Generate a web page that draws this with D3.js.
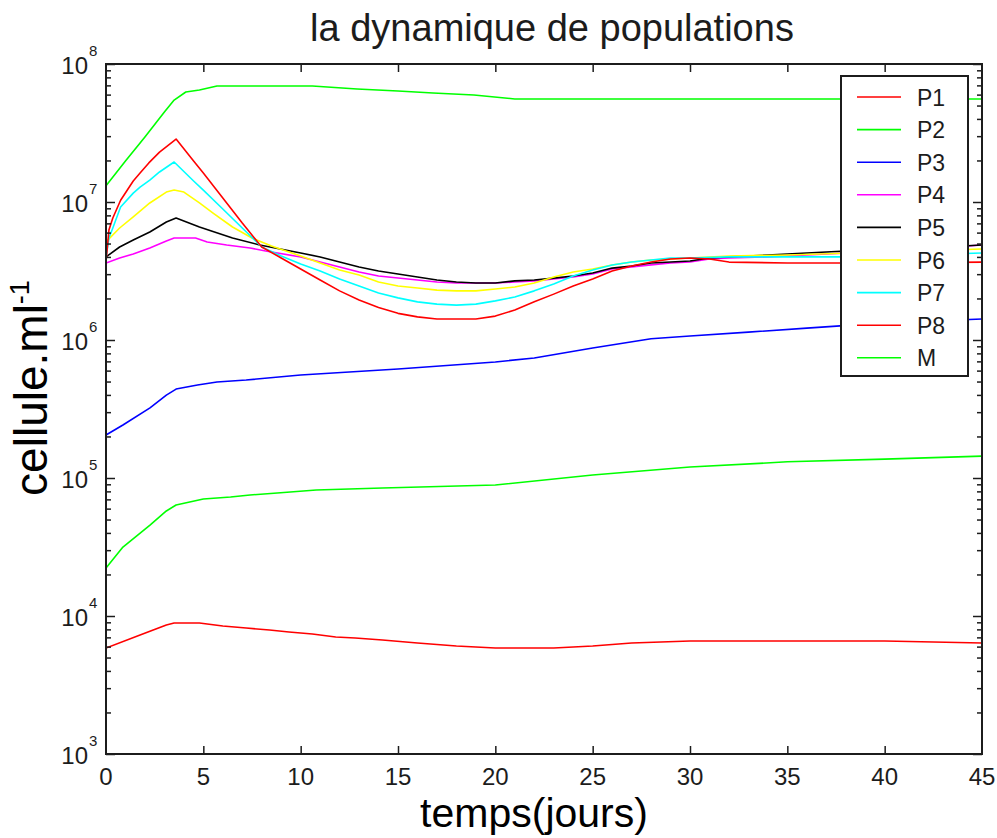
<!DOCTYPE html>
<html>
<head>
<meta charset="utf-8">
<script src="https://cdn.jsdelivr.net/npm/d3@7"></script>
<style>
  body { margin: 0; background: #fff; }
  svg { display: block; font-family: "Liberation Sans", Arial, sans-serif; }
</style>
</head>
<body>
<svg id="chart" width="997" height="838"></svg>
<script>
// ---- labels and ticks ----
const titleText = "la dynamique de populations";
const xLabelText = "temps(jours)";
const yLabelText = "cellule.ml";
const yLabelSup = "-1";
const xTicks = [0, 5, 10, 15, 20, 25, 30, 35, 40, 45];
const yDecades = [3, 4, 5, 6, 7, 8];

// ---- series (time in days, cells per ml) ----
const seriesNames  = ["P1", "P2", "P3", "P4", "P5", "P6", "P7", "P8", "M"];
const seriesColors = ["#ff0000", "#00ff00", "#0000ff", "#ff00ff", "#000000", "#ffff00", "#00ffff", "#ff0000", "#00ff00"];

const tP1 = [0, 1.75, 3.1, 3.5, 4.8, 6, 7.2, 8.4, 9.4, 10.6, 11.8, 12.8, 14.2, 16, 18, 20, 23, 25, 27, 30, 35, 40, 45];
const vP1 = [5.86e3, 7.28e3, 8.60e3, 8.90e3, 8.90e3, 8.46e3, 8.18e3, 7.92e3, 7.66e3, 7.41e3, 7.04e3, 6.93e3, 6.70e3, 6.37e3, 6.06e3, 5.86e3, 5.86e3, 6.06e3, 6.37e3, 6.59e3, 6.59e3, 6.59e3, 6.37e3];

const tP2 = [0, 0.87, 2.26, 3.1, 3.6, 4.3, 5, 6.4, 7.4, 8.8, 10.8, 14.2, 20, 25, 30, 35, 40, 45];
const vP2 = [2.23e4, 3.16e4, 4.56e4, 5.77e4, 6.37e4, 6.70e4, 7.04e4, 7.28e4, 7.53e4, 7.79e4, 8.18e4, 8.46e4, 8.90e4, 1.05e5, 1.20e5, 1.31e5, 1.37e5, 1.44e5];

const tP3 = [0, 0.87, 2.26, 3.1, 3.6, 4.7, 5.7, 7.2, 10, 15, 20, 22, 25, 28, 30, 33, 36, 40, 45];
const vP3 = [2.05e5, 2.42e5, 3.22e5, 3.99e5, 4.41e5, 4.72e5, 4.96e5, 5.13e5, 5.58e5, 6.16e5, 6.93e5, 7.41e5, 8.75e5, 1.02e6, 1.07e6, 1.14e6, 1.22e6, 1.33e6, 1.42e6];

const tP4 = [0, 0.7, 1.4, 2.25, 3.1, 3.5, 4.6, 5.2, 6.2, 7.4, 8.2, 10, 11, 12, 13, 14, 15, 16, 17, 18, 19, 20, 21, 22, 23, 24, 25, 26, 27, 28, 29, 30, 31, 32, 34, 36, 38, 42, 45];
const vP4 = [3.61e6, 3.93e6, 4.20e6, 4.64e6, 5.22e6, 5.48e6, 5.48e6, 5.13e6, 4.88e6, 4.64e6, 4.41e6, 4.00e6, 3.67e6, 3.38e6, 3.11e6, 2.91e6, 2.81e6, 2.72e6, 2.63e6, 2.59e6, 2.59e6, 2.59e6, 2.63e6, 2.68e6, 2.77e6, 2.86e6, 3.01e6, 3.27e6, 3.38e6, 3.50e6, 3.61e6, 3.67e6, 3.86e6, 3.93e6, 4.00e6, 4.13e6, 4.27e6, 4.56e6, 4.88e6];

const tP5 = [0, 0.7, 1.4, 2.25, 3.1, 3.6, 4.8, 6.5, 7.9, 10, 11, 12, 13, 14, 15, 16, 17, 18, 19, 20, 21, 22, 23, 24, 25, 26, 27, 28, 29, 30, 31, 32, 34, 36, 38, 42, 45];
const vP5 = [4.00e6, 4.72e6, 5.30e6, 6.06e6, 7.16e6, 7.66e6, 6.59e6, 5.48e6, 4.88e6, 4.27e6, 4.00e6, 3.67e6, 3.38e6, 3.16e6, 3.01e6, 2.86e6, 2.72e6, 2.63e6, 2.59e6, 2.59e6, 2.68e6, 2.72e6, 2.81e6, 2.91e6, 3.06e6, 3.32e6, 3.44e6, 3.61e6, 3.67e6, 3.74e6, 3.93e6, 4.00e6, 4.13e6, 4.27e6, 4.41e6, 4.64e6, 4.88e6];

const tP6 = [0, 0.7, 1.4, 2.25, 3.1, 3.5, 4, 4.8, 5.5, 6.5, 7.5, 8.5, 10, 11, 12, 13, 14, 15, 16, 17, 18, 19, 20, 21, 22, 23, 24, 25, 26, 27, 28, 30, 32, 35, 40, 45];
const vP6 = [5.13e6, 6.48e6, 7.79e6, 9.84e6, 1.18e7, 1.22e7, 1.18e7, 9.84e6, 8.32e6, 6.59e6, 5.48e6, 4.80e6, 4.06e6, 3.61e6, 3.22e6, 2.96e6, 2.63e6, 2.46e6, 2.38e6, 2.30e6, 2.27e6, 2.27e6, 2.34e6, 2.42e6, 2.59e6, 2.86e6, 3.11e6, 3.27e6, 3.50e6, 3.67e6, 3.80e6, 3.93e6, 4.06e6, 4.13e6, 4.34e6, 4.56e6];

const tP7 = [0, 0.15, 0.35, 0.75, 1.4, 1.75, 2.25, 2.75, 3.5, 4.5, 5, 6, 7, 8, 9, 10, 11, 12, 13, 14, 15, 16, 17, 18, 19, 20, 21, 22, 23, 24, 25, 26, 27, 28, 29, 30, 32, 35, 38, 45];
const vP7 = [3.93e6, 5.48e6, 6.48e6, 9.20e6, 1.16e7, 1.28e7, 1.44e7, 1.65e7, 1.95e7, 1.42e7, 1.22e7, 8.90e6, 6.48e6, 4.72e6, 4.06e6, 3.55e6, 3.16e6, 2.77e6, 2.46e6, 2.19e6, 2.02e6, 1.89e6, 1.82e6, 1.79e6, 1.82e6, 1.92e6, 2.05e6, 2.27e6, 2.55e6, 2.91e6, 3.22e6, 3.50e6, 3.67e6, 3.80e6, 3.93e6, 3.93e6, 4.00e6, 4.00e6, 4.00e6, 4.27e6];

const tP8 = [0, 0.15, 0.35, 0.75, 1.4, 1.75, 2.2, 2.75, 3.6, 4.5, 5, 6, 7, 8, 9, 10, 11, 12, 13, 14, 15, 16, 17, 18, 19, 20, 21, 22, 23, 24, 25, 26, 27, 28, 29, 30, 31, 32, 35, 40, 45];
const vP8 = [3.67e6, 6.27e6, 7.66e6, 1.03e7, 1.42e7, 1.62e7, 1.92e7, 2.30e7, 2.86e7, 1.98e7, 1.62e7, 1.07e7, 7.04e6, 4.72e6, 3.93e6, 3.27e6, 2.72e6, 2.27e6, 1.95e6, 1.72e6, 1.56e6, 1.47e6, 1.42e6, 1.42e6, 1.42e6, 1.49e6, 1.65e6, 1.89e6, 2.15e6, 2.46e6, 2.77e6, 3.16e6, 3.44e6, 3.67e6, 3.86e6, 3.93e6, 3.86e6, 3.67e6, 3.61e6, 3.61e6, 3.67e6];

const tM = [0, 1, 2, 3, 3.5, 4.1, 4.8, 5.7, 10.6, 12.9, 15, 16.8, 18.9, 21, 45];
const vM = [1.31e7, 1.98e7, 2.96e7, 4.49e7, 5.48e7, 6.27e7, 6.48e7, 6.93e7, 6.93e7, 6.59e7, 6.37e7, 6.16e7, 5.96e7, 5.58e7, 5.58e7];

const seriesTimes  = [tP1, tP2, tP3, tP4, tP5, tP6, tP7, tP8, tM];
const seriesValues = [vP1, vP2, vP3, vP4, vP5, vP6, vP7, vP8, vM];

// ---- layout ----
const svg = d3.select("#chart");
const plot = { left: 106, right: 982, top: 64, bottom: 754 };
const ink = "#1c1c1c";

const x = d3.scaleLinear().domain([0, 45]).range([plot.left, plot.right]);
const y = d3.scaleLog().domain([1e3, 1e8]).range([plot.bottom, plot.top]);

svg.append("rect").attr("width", 997).attr("height", 838).attr("fill", "#fff");

// ---- data lines ----
svg.append("clipPath").attr("id", "clip").append("rect")
  .attr("x", plot.left).attr("y", plot.top)
  .attr("width", plot.right - plot.left).attr("height", plot.bottom - plot.top);
const line = d3.line().x(d => x(d[0])).y(d => y(d[1]));
const linesG = svg.append("g").attr("clip-path", "url(#clip)");

seriesNames.forEach((name, i) => {
  const pts = seriesTimes[i].map((t, k) => [t, seriesValues[i][k]]);
  linesG.append("path")
    .datum(pts)
    .attr("d", line)
    .attr("fill", "none")
    .attr("stroke", seriesColors[i])
    .attr("stroke-width", 1.6)
    .attr("stroke-linejoin", "round");
});

// ---- axes: ticks pointing inward on all four sides ----
const majorY = yDecades.map(e => Math.pow(10, e));
const minorY = [];
yDecades.slice(0, -1).forEach(e => { for (let m = 2; m <= 9; m++) minorY.push(m * Math.pow(10, e)); });

function addAxis(gen, tx, ty) {
  const g = svg.append("g").attr("transform", `translate(${tx},${ty})`).call(gen);
  g.select(".domain").remove();
  g.selectAll("line").attr("stroke", ink).attr("stroke-width", 1.5);
  g.selectAll("text").remove();
  return g;
}
addAxis(d3.axisBottom(x).tickValues(xTicks.slice(1, -1)).tickSize(-8), 0, plot.bottom);
addAxis(d3.axisTop(x).tickValues(xTicks.slice(1, -1)).tickSize(-8), 0, plot.top);
addAxis(d3.axisLeft(y).tickValues(majorY).tickSize(-9), plot.left, 0);
addAxis(d3.axisRight(y).tickValues(majorY).tickSize(-9), plot.right, 0);
addAxis(d3.axisLeft(y).tickValues(minorY).tickSize(-5), plot.left, 0);
addAxis(d3.axisRight(y).tickValues(minorY).tickSize(-5), plot.right, 0);

// frame
svg.append("rect")
  .attr("x", plot.left).attr("y", plot.top)
  .attr("width", plot.right - plot.left).attr("height", plot.bottom - plot.top)
  .attr("fill", "none").attr("stroke", ink).attr("stroke-width", 2);

// x tick labels
svg.append("g").selectAll("text").data(xTicks).join("text")
  .attr("x", d => x(d)).attr("y", plot.bottom + 31)
  .attr("text-anchor", "middle").attr("font-size", 24).attr("fill", ink)
  .text(d => d);

// y tick labels: 10 with exponent
const yl = svg.append("g").selectAll("g").data(yDecades).join("g")
  .attr("transform", d => `translate(0,${y(Math.pow(10, d))})`);
yl.append("text").attr("x", 88).attr("y", 10).attr("text-anchor", "end")
  .attr("font-size", 24).attr("fill", ink).text("10");
yl.append("text").attr("x", 89).attr("y", -8).attr("text-anchor", "start")
  .attr("font-size", 15).attr("fill", ink).text(d => d);

// title and axis titles
svg.append("text").attr("x", 552).attr("y", 41).attr("text-anchor", "middle")
  .attr("font-size", 38).attr("fill", ink).text(titleText);
svg.append("text").attr("x", 534).attr("y", 827).attr("text-anchor", "middle")
  .attr("font-size", 41).attr("fill", "#000").text(xLabelText);
const yt = svg.append("text").attr("transform", "translate(47,388) rotate(-90)")
  .attr("text-anchor", "middle").attr("font-size", 46).attr("fill", "#000");
yt.append("tspan").text(yLabelText);
yt.append("tspan").attr("dy", -18).attr("font-size", 27).text(yLabelSup);

// ---- legend ----
const lg = svg.append("g");
lg.append("rect").attr("x", 841).attr("y", 76).attr("width", 127).attr("height", 300)
  .attr("fill", "#fff").attr("stroke", ink).attr("stroke-width", 2);
const items = lg.selectAll("g.item").data(seriesNames).join("g")
  .attr("class", "item")
  .attr("transform", (d, i) => `translate(0,${97 + i * 32.6})`);
items.append("line").attr("x1", 857).attr("x2", 901)
  .attr("stroke", (d, i) => seriesColors[i]).attr("stroke-width", 1.6);
items.append("text").attr("x", 917).attr("y", 8.5).attr("font-size", 23)
  .attr("fill", ink).text(d => d);
</script>
</body>
</html>
